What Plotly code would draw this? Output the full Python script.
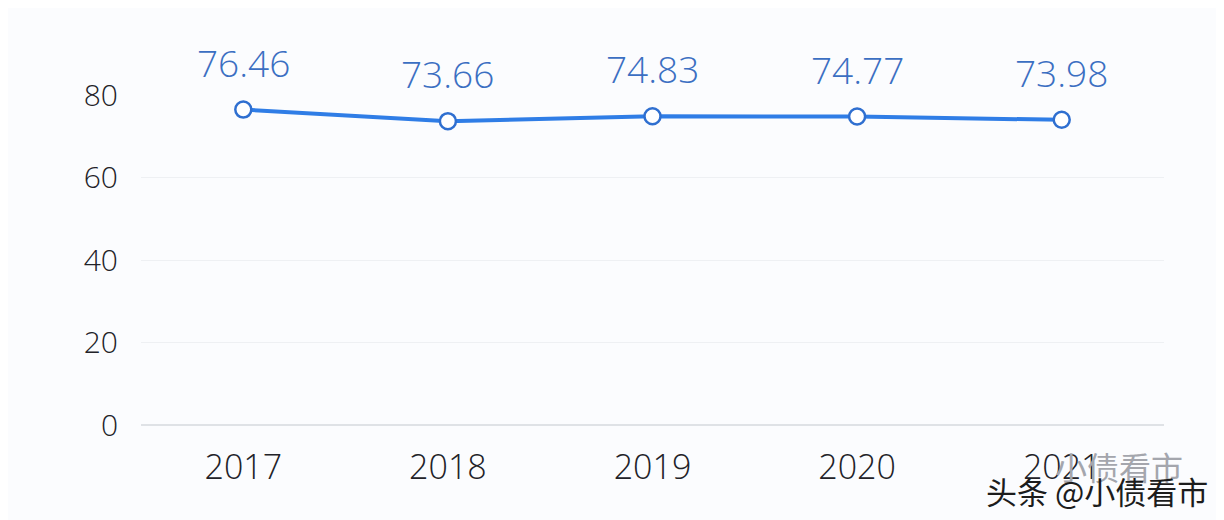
import plotly.graph_objects as go

years = ["2017", "2018", "2019", "2020", "2021"]
values = [76.46, 73.66, 74.83, 74.77, 73.98]
y_ticks = [0, 20, 40, 60, 80]

FONT = "Open Sans, Lato, sans-serif"

fig = go.Figure()
fig.add_trace(go.Scatter(
    x=years, y=values, mode="lines+markers",
    line=dict(color="#2f7de6", width=4),
    marker=dict(size=16, color="white", line=dict(color="#2f6fd0", width=2.5)),
    cliponaxis=False,
    showlegend=False,
))

for i, v in enumerate(values):
    fig.add_annotation(
        x=i, y=v, xref="x", yref="y", text=f"{v:.2f}", showarrow=False,
        xanchor="center", yanchor="bottom", yshift=20,
        font=dict(family=FONT, size=37, color="#3b6fc2", weight=300),
    )

fig.update_layout(
    width=1224, height=520,
    margin=dict(l=133, r=68, t=87, b=103),
    paper_bgcolor="#fbfcfe", plot_bgcolor="#fbfcfe",
    xaxis=dict(type="category", range=[-0.5, 4.5], showgrid=False, zeroline=False, showline=False,
               ticks="", tickfont=dict(family=FONT, size=34, color="#222228", weight=300),
               ticklabelstandoff=19),
    yaxis=dict(range=[0, 80], tickvals=y_ticks, showgrid=True, gridcolor="#eef0f3", gridwidth=1,
               zeroline=True, zerolinecolor="#dfe2e6", zerolinewidth=1.5, showline=False, ticks="",
               tickfont=dict(family=FONT, size=30, color="#222228", weight=300),
               ticklabelstandoff=22),
    font=dict(family=FONT),
)

fig.add_annotation(
    text="小债看市", xref="paper", yref="paper", x=1.0205, y=-0.125,
    xanchor="right", yanchor="middle", showarrow=False,
    font=dict(family="Noto Sans CJK SC", size=32, color="#a4a6ad"),
)
fig.add_annotation(
    text="头条 @小债看市", xref="paper", yref="paper", x=1.045, y=-0.197,
    xanchor="right", yanchor="middle", showarrow=False,
    font=dict(family="Noto Sans CJK SC", size=31, color="#1c1c1c"),
)

fig.write_html("out.html")
